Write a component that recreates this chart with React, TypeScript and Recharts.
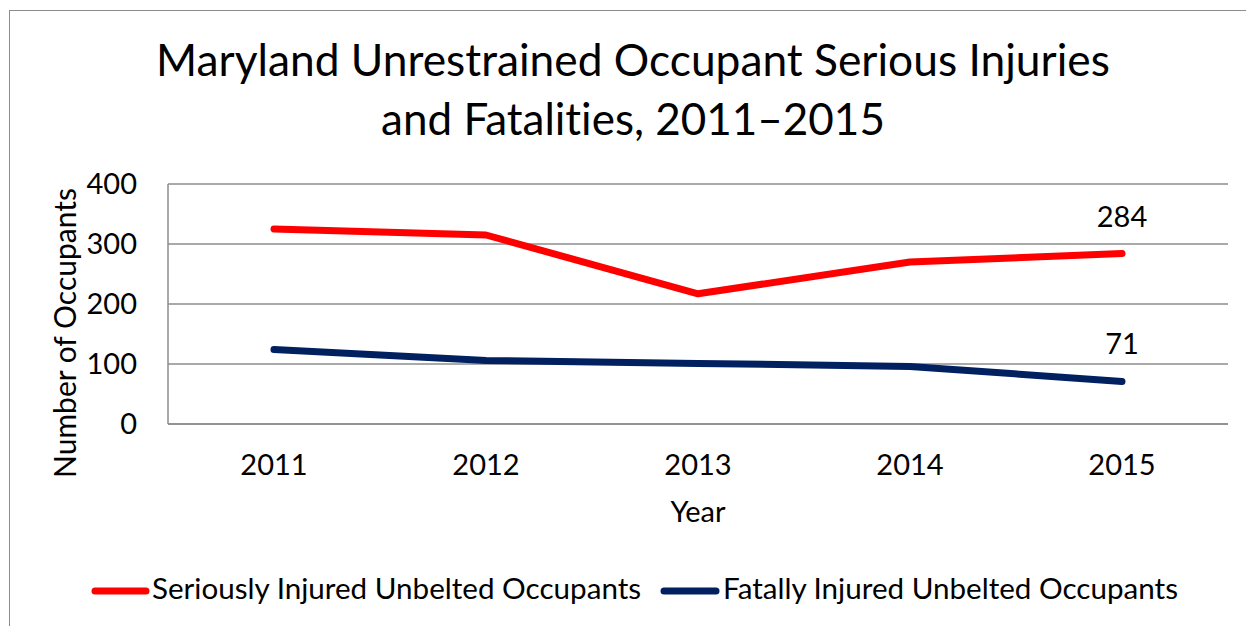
import { LineChart, Line, XAxis, YAxis, CartesianGrid, LabelList } from 'recharts';

const years = ['2011', '2012', '2013', '2014', '2015'];
const seriouslyInjured = [325, 315, 217, 270, 284];
const fatallyInjured = [124, 106, 101, 96, 71];
const yTicks = [0, 100, 200, 300, 400];

const seriousName = 'Seriously Injured Unbelted Occupants';
const fatalName = 'Fatally Injured Unbelted Occupants';

const RED = '#ff0000';
const NAVY = '#002060';
const GRID = '#8c8c8c';
const FONT = 'Lato, "Open Sans", sans-serif';
const FS = 29;

const data = years.map((year, i) => ({
  year,
  serious: seriouslyInjured[i],
  fatal: fatallyInjured[i],
}));

// only the last point carries a value label
const lastLabel = (props: any) => {
  const { x, y, value, index } = props;
  if (index !== years.length - 1) return null;
  return (
    <text x={x} y={y - 27} textAnchor="middle" fontSize={FS} fontFamily={FONT} fill="#000">
      {value}
    </text>
  );
};

export default function App() {
  return (
    <div
      style={{
        position: 'absolute',
        left: 0,
        top: 0,
        width: 1246,
        height: 626,
        background: '#fff',
        overflow: 'hidden',
        fontVariantLigatures: 'none',
      }}
    >
      <div
        style={{
          position: 'absolute',
          left: 9,
          top: 10,
          width: 1260,
          height: 640,
          border: `1.5px solid ${GRID}`,
          boxSizing: 'border-box',
        }}
      />
      <LineChart
        width={1246}
        height={626}
        data={data}
        margin={{ top: 184, right: 18, left: 108, bottom: 142 }}
        style={{ position: 'absolute', left: 0, top: 0 }}
      >
        <CartesianGrid horizontal vertical={false} stroke={GRID} strokeWidth={1.5} />
        <XAxis
          dataKey="year"
          height={60}
          padding={{ left: 106, right: 106 }}
          axisLine={{ stroke: GRID, strokeWidth: 1.5 }}
          tickLine={false}
          tickSize={0}
          tickMargin={30}
          tick={{ fontSize: FS, fontFamily: FONT, fill: '#000' }}
        />
        <YAxis
          width={60}
          domain={[0, 400]}
          ticks={yTicks}
          axisLine={{ stroke: GRID, strokeWidth: 1.5 }}
          tickLine={false}
          tickSize={0}
          tickMargin={31}
          tick={{ fontSize: FS, fontFamily: FONT, fill: '#000' }}
        />
        <Line
          dataKey="serious"
          name={seriousName}
          stroke={RED}
          strokeWidth={7}
          strokeLinecap="round"
          strokeLinejoin="round"
          dot={false}
          isAnimationActive={false}
        >
          <LabelList dataKey="serious" content={lastLabel} />
        </Line>
        <Line
          dataKey="fatal"
          name={fatalName}
          stroke={NAVY}
          strokeWidth={7}
          strokeLinecap="round"
          strokeLinejoin="round"
          dot={false}
          isAnimationActive={false}
        >
          <LabelList dataKey="fatal" content={lastLabel} />
        </Line>
      </LineChart>
      <svg
        width={1246}
        height={626}
        style={{ position: 'absolute', left: 0, top: 0, pointerEvents: 'none' }}
        fontFamily={FONT}
      >
        <text x={633} y={76} textAnchor="middle" fontSize={44.3} fill="#000">
          Maryland Unrestrained Occupant Serious Injuries
        </text>
        <text x={633} y={135} textAnchor="middle" fontSize={44} fill="#000">
          and Fatalities, 2011–2015
        </text>
        <text x={698} y={522} textAnchor="middle" fontSize={FS} fill="#000">
          Year
        </text>
        <text transform="translate(76,333) rotate(-90)" textAnchor="middle" fontSize={30} fill="#000">
          Number of Occupants
        </text>
        <line x1={95} y1={591} x2={146} y2={591} stroke={RED} strokeWidth={7} strokeLinecap="round" />
        <text x={152} y={599} fontSize={29.6} fill="#000">
          {seriousName}
        </text>
        <line x1={664} y1={591} x2={716} y2={591} stroke={NAVY} strokeWidth={7} strokeLinecap="round" />
        <text x={723} y={599} fontSize={29.6} fill="#000">
          {fatalName}
        </text>
      </svg>
    </div>
  );
}
